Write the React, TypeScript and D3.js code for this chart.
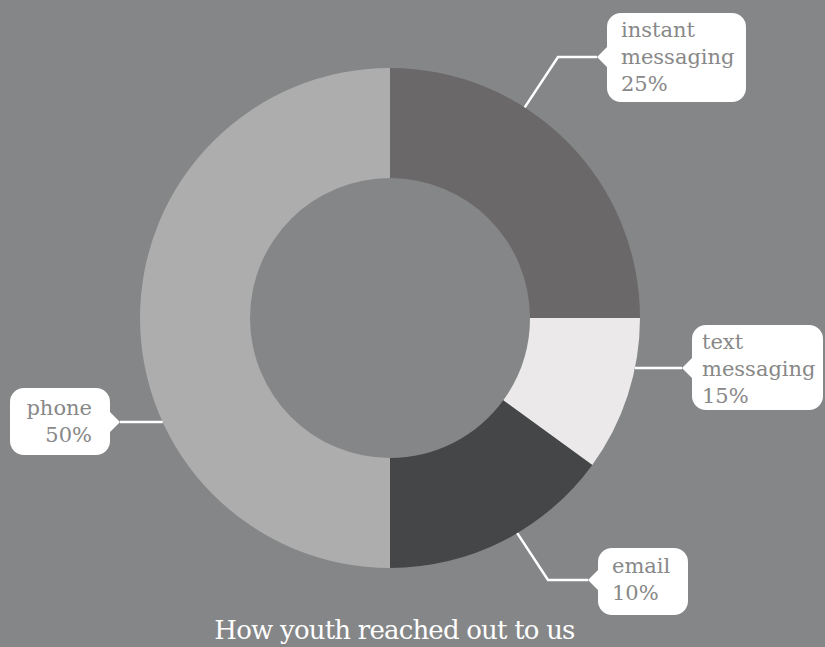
import React from "react";
import * as d3 from "d3";

const categories = ["instant messaging", "text messaging", "email", "phone"];
const sliceValues = [25, 10, 15, 50];
const labelLines = [["instant", "messaging", "25%"], ["text", "messaging", "15%"], ["email", "10%"], ["phone", "50%"]];
const sliceColors = ["#6a6868", "#ebe9ea", "#454648", "#adadad"];
const title = "How youth reached out to us";

const W = 825, H = 647;
const cx = 390, cy = 318, R = 250, r = 140;

type Box = { x: number; y: number; w: number; h: number; py: number; side: "left" | "right"; anchor: "start" | "end"; bend: [number, number] | null; deg: number; ty: number; tdx: number };
const boxes: Box[] = [
  { x: 607, y: 13, w: 139, h: 89, py: 57, side: "left", anchor: "start", bend: [558, 57], deg: 32.6, ty: 37, tdx: 14 },
  { x: 692, y: 325, w: 131, h: 85, py: 368, side: "left", anchor: "start", bend: null, deg: 78.5, ty: 349, tdx: 10 },
  { x: 598, y: 548, w: 90, h: 67, py: 580, side: "left", anchor: "start", bend: [548, 580], deg: 149.4, ty: 573, tdx: 14 },
  { x: 10, y: 388, w: 100, h: 67, py: 422, side: "right", anchor: "end", bend: null, deg: 245.4, ty: 415, tdx: -18 },
];

function boxPath(b: Box) {
  const rr = 14, ph = 10, pd = 10;
  const { x, y, w, h, py } = b;
  const p = d3.path();
  p.moveTo(x + rr, y);
  p.lineTo(x + w - rr, y);
  p.arcTo(x + w, y, x + w, y + rr, rr);
  if (b.side === "right") {
    p.lineTo(x + w, py - ph);
    p.lineTo(x + w + pd, py);
    p.lineTo(x + w, py + ph);
  }
  p.lineTo(x + w, y + h - rr);
  p.arcTo(x + w, y + h, x + w - rr, y + h, rr);
  p.lineTo(x + rr, y + h);
  p.arcTo(x, y + h, x, y + h - rr, rr);
  if (b.side === "left") {
    p.lineTo(x, py + ph);
    p.lineTo(x - pd, py);
    p.lineTo(x, py - ph);
  }
  p.lineTo(x, y + rr);
  p.arcTo(x, y, x + rr, y, rr);
  p.closePath();
  return p.toString();
}

export default function App() {
  const pie = d3.pie<number>().sort(null).value((d) => d)(sliceValues);
  const arc = d3.arc<d3.PieArcDatum<number>>().innerRadius(r).outerRadius(R);
  const font = "'DejaVu Serif', serif";
  return (
    <div style={{ position: "fixed", left: 0, top: 0, width: W, height: H }}>
      <svg width={W} height={H} style={{ display: "block" }}>
        <rect width={W} height={H} fill="#858687" />
        <g transform={`translate(${cx},${cy})`}>
          {pie.map((d, i) => (
            <path key={categories[i]} d={arc(d) || ""} fill={sliceColors[i]} />
          ))}
        </g>
        {boxes.map((b, i) => {
          const a = (b.deg * Math.PI) / 180;
          const sx = cx + R * Math.sin(a);
          const sy = cy - R * Math.cos(a);
          const tipX = b.side === "left" ? b.x - 10 : b.x + b.w + 10;
          const pts: [number, number][] = [[sx, b.bend ? sy : b.py]];
          if (b.bend) pts.push(b.bend);
          pts.push([tipX, b.py]);
          const tx = b.anchor === "start" ? b.x + b.tdx : b.x + b.w + b.tdx;
          return (
            <g key={categories[i]}>
              <path d={d3.line()(pts) || ""} fill="none" stroke="#ffffff" strokeWidth={2.5} />
              <path d={boxPath(b)} fill="#ffffff" />
              <text fontFamily={font} fontSize={21} fill="#888888" textAnchor={b.anchor}>
                {labelLines[i].map((t, j) => (
                  <tspan key={j} x={tx} y={b.ty + j * 27}>{t}</tspan>
                ))}
              </text>
            </g>
          );
        })}
        <text x={394.5} y={639} textAnchor="middle" fontFamily={font} fontSize={26} letterSpacing={-0.8} fill="#ffffff">{title}</text>
      </svg>
    </div>
  );
}
